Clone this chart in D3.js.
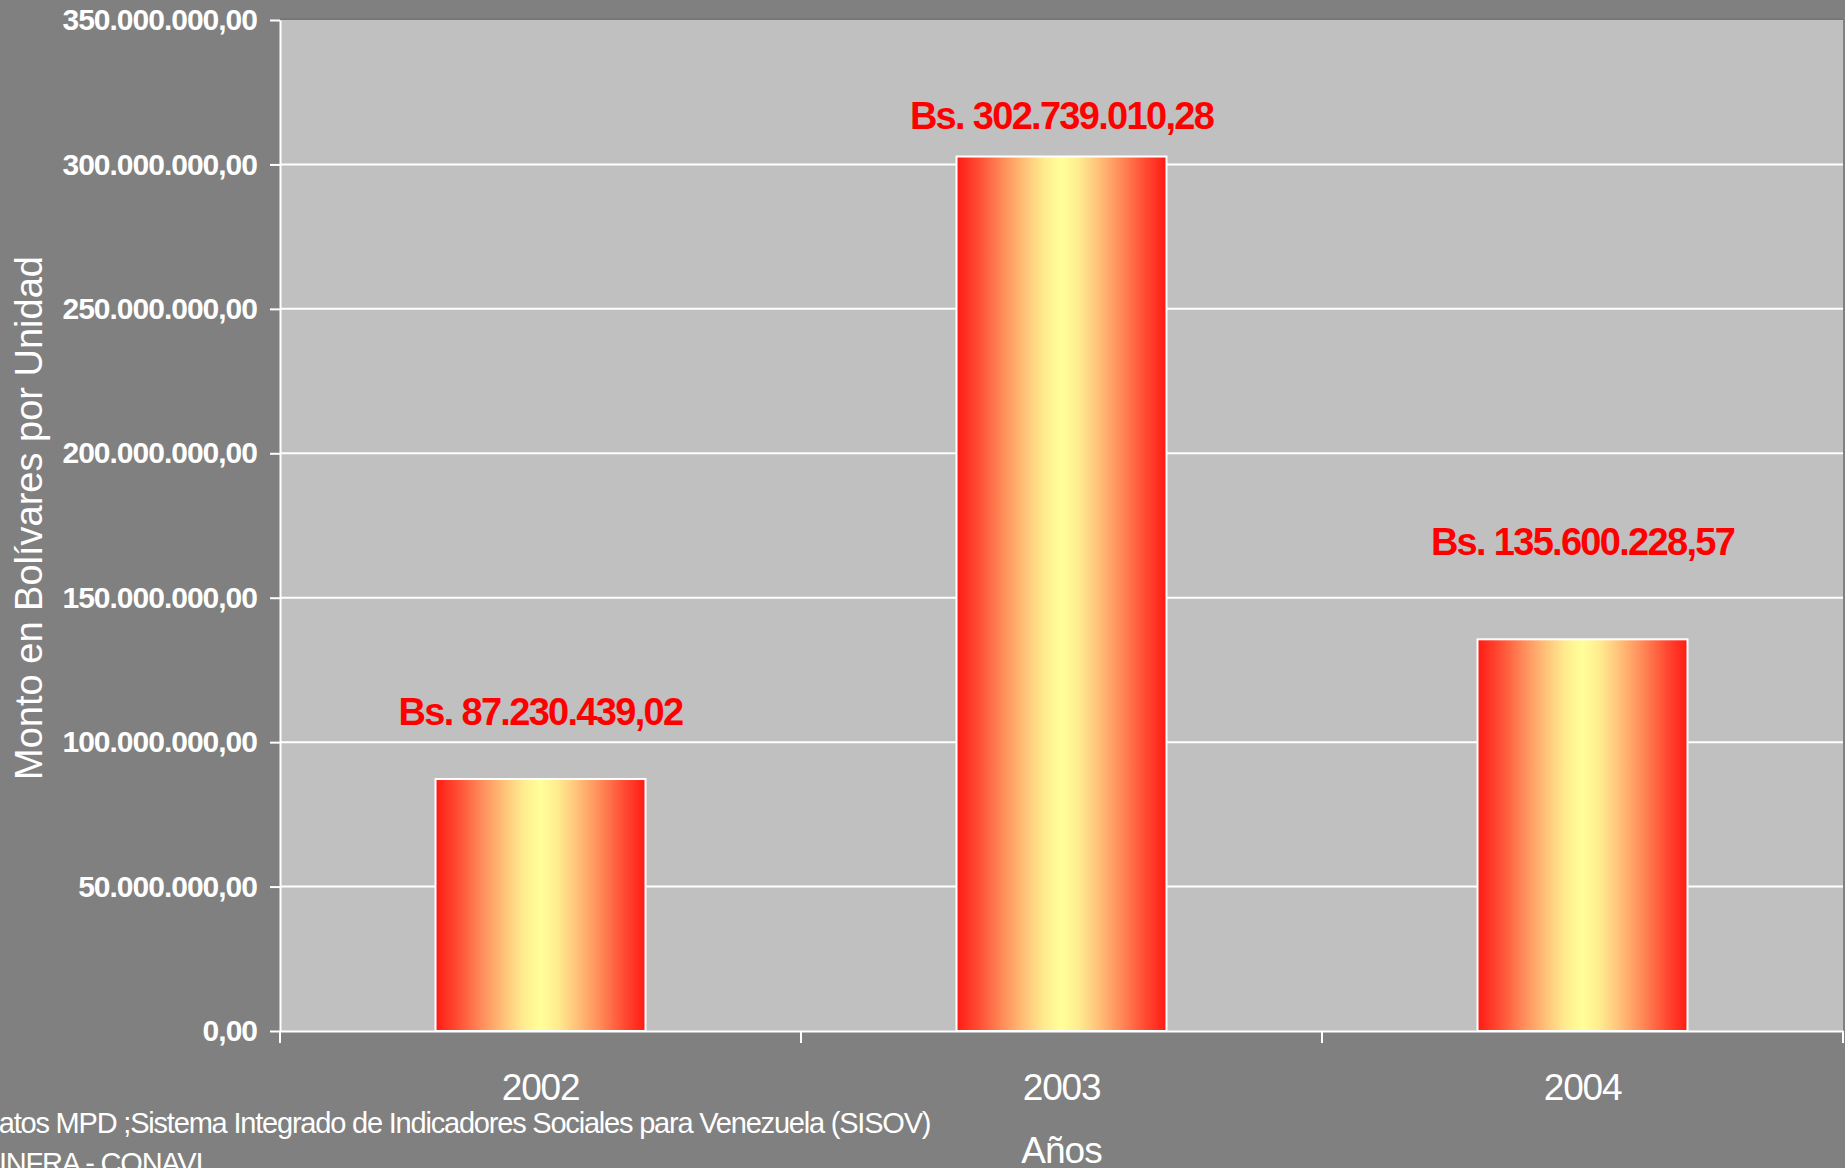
<!DOCTYPE html>
<html>
<head>
<meta charset="utf-8">
<script src="https://cdn.jsdelivr.net/npm/d3@7"></script>
<style>
  html, body { margin: 0; padding: 0; background: #808080; }
  svg { display: block; font-family: "Liberation Sans", Arial, sans-serif; }
</style>
</head>
<body>
<svg id="chart" width="1845" height="1168"></svg>
<script>
// data
const categories = ["2002", "2003", "2004"];
const values = [87230439.02, 302739010.28, 135600228.57];
const valueLabels = ["Bs. 87.230.439,02", "Bs. 302.739.010,28", "Bs. 135.600.228,57"];
const yTicks = [0, 50e6, 100e6, 150e6, 200e6, 250e6, 300e6, 350e6];

// label gaps above each bar (placed by hand in the original)
const labelGap = [54, 28, 84];

const plotLeft = 280, plotRight = 1843, plotTop = 20, plotBottom = 1031;

const es = d3.formatLocale({decimal: ",", thousands: ".", grouping: [3], currency: ["Bs. ", ""]});
const fmt = es.format(",.2f");

const svg = d3.select("#chart");

svg.append("rect").attr("width", 1845).attr("height", 1168).attr("fill", "#808080");

const y = d3.scaleLinear().domain([0, 350e6]).range([plotBottom, plotTop]);
const x = d3.scaleBand().domain(categories).range([plotLeft, plotRight]).padding(0);
const barW = x.bandwidth() * 0.403;

// gradient for bars
const grad = svg.append("defs").append("linearGradient")
    .attr("id", "barGrad").attr("x1", 0).attr("x2", 1).attr("y1", 0).attr("y2", 0);
[[0, "#ff1a14"], [0.1, "#ff4a32"], [0.22, "#ff8c5a"], [0.33, "#ffc47a"], [0.42, "#ffec90"], [0.5, "#ffff99"],
 [0.58, "#ffec90"], [0.67, "#ffc47a"], [0.78, "#ff8c5a"], [0.9, "#ff4a32"], [1, "#ff1a14"]]
  .forEach(function(s) { grad.append("stop").attr("offset", s[0]).attr("stop-color", s[1]); });

// plot area
svg.append("rect")
    .attr("x", plotLeft).attr("y", plotTop).attr("width", plotRight - plotLeft).attr("height", plotBottom - plotTop)
    .attr("fill", "#c0c0c0");
svg.append("line").attr("x1", plotLeft).attr("x2", plotRight).attr("y1", plotTop - 1).attr("y2", plotTop - 1)
    .attr("stroke", "#777").attr("stroke-width", 2);

// gridlines
svg.append("g").selectAll("line").data(yTicks.filter(d => d > 0 && d < 350e6)).join("line")
    .attr("x1", plotLeft).attr("x2", plotRight)
    .attr("y1", d => y(d)).attr("y2", d => y(d))
    .attr("stroke", "#fff").attr("stroke-width", 2);

// bars
svg.append("g").selectAll("rect").data(values).join("rect")
    .attr("x", (d, i) => x(categories[i]) + (x.bandwidth() - barW) / 2)
    .attr("y", d => y(d))
    .attr("width", barW)
    .attr("height", d => y(0) - y(d))
    .attr("fill", "url(#barGrad)")
    .attr("stroke", "#fff").attr("stroke-width", 2);

// value labels
svg.append("g").selectAll("text").data(values).join("text")
    .attr("x", (d, i) => x(categories[i]) + x.bandwidth() / 2)
    .attr("y", (d, i) => y(d) - labelGap[i])
    .attr("text-anchor", "middle")
    .attr("fill", "#ff0000")
    .attr("font-weight", "bold")
    .attr("font-size", 38)
    .attr("letter-spacing", -1.7)
    .text((d, i) => valueLabels[i]);

// y axis
const yAxis = svg.append("g").attr("transform", `translate(${plotLeft},0)`)
    .call(d3.axisLeft(y).tickValues(yTicks).tickSize(10).tickSizeOuter(0).tickPadding(13).tickFormat(fmt));
yAxis.select(".domain").attr("stroke", "#fff").attr("stroke-width", 2);
yAxis.selectAll(".tick line").attr("stroke", "#fff").attr("stroke-width", 2);
yAxis.selectAll(".tick text")
    .attr("fill", "#fff").attr("font-size", 30).attr("font-weight", "bold")
    .attr("letter-spacing", -1).attr("font-family", "Liberation Sans, Arial, sans-serif");

// x axis
const xAxis = svg.append("g").attr("transform", `translate(0,${plotBottom})`)
    .call(d3.axisBottom(x).tickSize(0).tickSizeOuter(0));
xAxis.select(".domain").attr("stroke", "#fff").attr("stroke-width", 2);
xAxis.selectAll(".tick text")
    .attr("y", 69).attr("dy", 0)
    .attr("fill", "#fff").attr("font-size", 37).attr("letter-spacing", -1.2)
    .attr("font-family", "Liberation Sans, Arial, sans-serif");
xAxis.selectAll("line.bound").data(categories.map(c => x(c)).concat([plotRight])).join("line")
    .attr("class", "bound")
    .attr("x1", d => d).attr("x2", d => d).attr("y1", 0).attr("y2", 12)
    .attr("stroke", "#fff").attr("stroke-width", 2);

// axis titles
svg.append("text")
    .attr("transform", "translate(42,518) rotate(-90)")
    .attr("text-anchor", "middle").attr("fill", "#fff").attr("font-size", 38)
    .text("Monto en Bolívares por Unidad");

svg.append("text")
    .attr("x", x("2003") + x.bandwidth() / 2).attr("y", 1163)
    .attr("text-anchor", "middle").attr("fill", "#fff").attr("font-size", 37).attr("letter-spacing", -1)
    .text("Años");

// source note
svg.append("text")
    .attr("x", -21).attr("y", 1133).attr("fill", "#fff").attr("font-size", 29).attr("letter-spacing", -1.2)
    .text("Datos MPD ;Sistema Integrado de Indicadores Sociales para Venezuela (SISOV)");
svg.append("text")
    .attr("x", -24).attr("y", 1173).attr("fill", "#fff").attr("font-size", 29).attr("letter-spacing", -1.2)
    .text("MINFRA - CONAVI");
</script>
</body>
</html>
